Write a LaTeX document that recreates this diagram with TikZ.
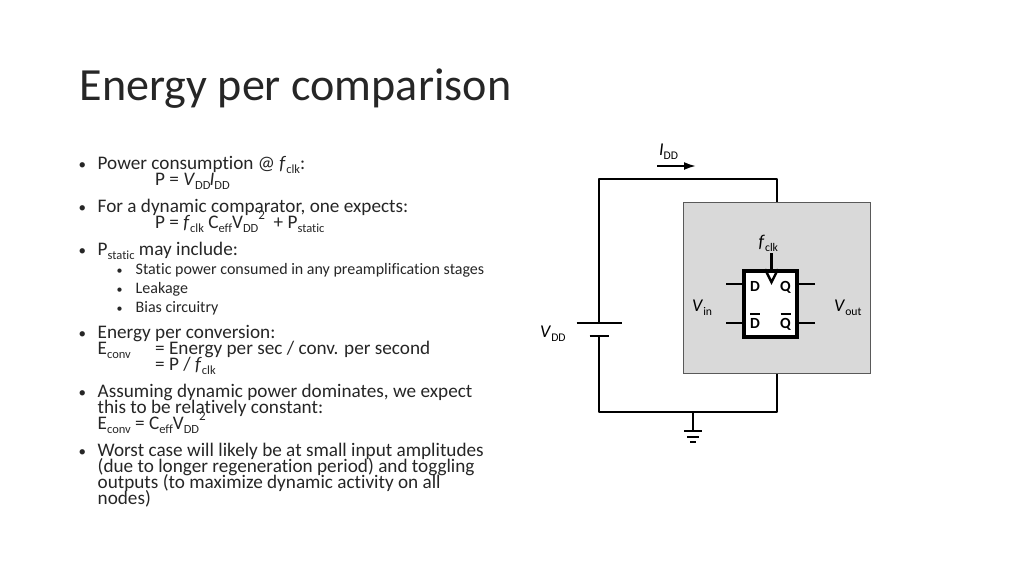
\documentclass[tikz,border=0pt]{standalone}
\usepackage{fontspec}
\setmainfont{Carlito}[Ligatures=NoCommon]
\usepackage{tikz}
\usetikzlibrary{arrows.meta,positioning}
\definecolor{dutgray}{HTML}{D9D9D9}
\definecolor{inktext}{HTML}{262626}
\tikzset{
	titletext/.style={anchor=base west,inner sep=0pt,text=inktext,font=\fontsize{46.1}{48}\selectfont},
	bodytext/.style={anchor=base west,inner sep=0pt,text=inktext,font=\fontsize{19.2}{19}\selectfont},
	subtext/.style={anchor=base west,inner sep=0pt,text=inktext,font=\fontsize{16}{16}\selectfont},
	bodybullet/.style={anchor=base west,inner sep=0pt,text=inktext,font=\fontsize{15}{15}\selectfont},
	subbullet/.style={anchor=base west,inner sep=0pt,text=inktext,font=\fontsize{12}{12}\selectfont},
	cirlabel/.style={anchor=base west,inner sep=0pt,text=black,font=\fontsize{18}{18}\selectfont},
	pinlabel/.style={anchor=base,inner sep=0pt,text=black,font=\fontsize{15.5}{15}\selectfont\bfseries},
	wire/.style={draw=black,line width=2.6pt,line join=round},
	pin/.style={draw=black,line width=2.4pt},
	dutbox/.style={draw=black!65,line width=1pt,fill=dutgray,minimum width=187pt,minimum height=171pt,inner sep=0pt},
	ffbox/.style={draw=black,line width=3.6pt,fill=white,minimum width=53pt,minimum height=66pt,inner sep=0pt}
}
\newcommand{\subs}[1]{\raisebox{-0.25em}{\fontsize{0.65em}{1em}\selectfont #1}}
\newcommand{\sups}[1]{\raisebox{0.42em}{\fontsize{0.68em}{1em}\selectfont #1}}
\newcommand{\fclk}{\textit{f}\subs{clk}}
\newcommand{\pinbar}[1]{\makebox[0pt][c]{\raisebox{13.5pt}{\rule{10pt}{1.6pt}}}\makebox[0pt][c]{#1}}

\begin{document}
\begin{tikzpicture}[x=1pt,y=-1pt]
	\useasboundingbox (0,0) rectangle (1024,576);
	\node[titletext] (title) at (79.5,100) {Energy per comparison};

	% bullets
	\foreach \yb/\nm in {169/a,212.5/b,255/c,338/d,397/e,456/f}
		\node[bodybullet] (bul\nm) at (78.5,\yb) {•};
	\foreach \yb/\nm in {274.5/a,293/b,312/c}
		\node[subbullet] (subbul\nm) at (116.5,\yb) {•};

	\node[bodytext] (power) at (97.5,169) {Power consumption @ \fclk:};
	\node[bodytext] (powereq) at (155,185) {P = \textit{V}\subs{DD}\hspace{-1pt}\textit{I}\subs{DD}};
	\node[bodytext] (dyn) at (97.5,212.5) {For a dynamic comparator, one expects:};
	\node[bodytext] (dyneq) at (155,228) {P = \fclk\ C\subs{eff}V\subs{DD}\sups{2}\ \ + P\subs{static}};
	\node[bodytext] (pstat) at (97.5,255) {P\subs{static} may include:};
	\node[subtext] (stata) at (135.5,274.5) {Static power consumed in any preamplification stages};
	\node[subtext] (statb) at (135.5,293) {Leakage};
	\node[subtext] (statc) at (135.5,312) {Bias circuitry};
	\node[bodytext] (econv) at (97.5,338) {Energy per conversion:};
	\node[bodytext] (econva) at (97.5,354) {E\subs{conv}};
	\node[bodytext] (econvb) at (155,354) {= Energy per sec / conv. per second};
	\node[bodytext] (econvc) at (155,370) {= P / \fclk};
	\node[bodytext] (assume) at (97.5,397) {Assuming dynamic power dominates, we expect};
	\node[bodytext] (assumeb) at (97.5,413) {this to be relatively constant:};
	\node[bodytext] (assumec) at (97.5,429) {E\subs{conv} = C\subs{eff}V\subs{DD}\sups{2}};
	\node[bodytext] (worst) at (97.5,456) {Worst case will likely be at small input amplitudes};
	\node[bodytext] (worstb) at (97.5,472) {(due to longer regeneration period) and toggling};
	\node[bodytext] (worstc) at (97.5,488) {outputs (to maximize dynamic activity on all};
	\node[bodytext] (worstd) at (97.5,504) {nodes)};

	% circuit
	\node[dutbox] (dut) at (776.5,287.5) {};
	\node[ffbox] (ff) at (770.5,304) {};
	\coordinate (topl) at (599,179);
	\coordinate (topr) at (777,179);
	\coordinate (botl) at (599,412);
	\coordinate (botr) at (777,412);
	\coordinate (gnd) at (693,412);
	\coordinate (gndp) at (693,431);
	\coordinate (batt) at (599,323);
	\coordinate (battm) at (599,336);
	\draw[wire] (dut.north -| topr) -- (topr) -- (topl) -- (batt);
	\draw[wire] (battm) -- (botl) -- (botr) -- (dut.south -| botr);
	\draw[wire] (gnd) -- (gndp);
	\draw[wire] ([xshift=-22.5pt]batt) -- ([xshift=22.5pt]batt);
	\draw[wire] ([xshift=-9.5pt]battm) -- ([xshift=9.5pt]battm);
	\draw[wire] ([xshift=-9pt]gndp) -- ([xshift=9pt]gndp);
	\draw[wire] ([xshift=-6pt,yshift=-6pt]gndp) -- ([xshift=6pt,yshift=-6pt]gndp);
	\draw[wire] ([xshift=-3pt,yshift=-11pt]gndp) -- ([xshift=3pt,yshift=-11pt]gndp);
	\coordinate (arrs) at (657,166);
	\coordinate (arre) at (696,166);
	\draw[-{Latex[length=12pt,width=8pt]},line width=2pt] (arrs) -- (arre);

	\node[cirlabel] (idd) at (659,155) {\textit{I}\subs{DD}};
	\node[cirlabel] (vdd) at (540,337) {\textit{V}\subs{DD}};
	\node[cirlabel] (fclk) at (758.5,247) {\fclk};
	\node[cirlabel] (vin) at (692,311) {\textit{V}\subs{in}};
	\node[cirlabel] (vout) at (834,311) {\textit{V}\subs{out}};

	% flip-flop pins
	\coordinate (clkin) at (771.5,253);
	\coordinate (din) at (726,284);
	\coordinate (dbin) at (726,323);
	\coordinate (qout) at (815,284);
	\coordinate (qbout) at (815,323);
	\draw[pin] (clkin) -- (clkin |- ff.north);
	\draw[pin] (din) -- (din -| ff.west);
	\draw[pin] (dbin) -- (dbin -| ff.west);
	\draw[pin] (qout) -- (qout -| ff.east);
	\draw[pin] (qbout) -- (qbout -| ff.east);
	\draw[pin,line join=miter] ([xshift=-6.5pt]clkin |- ff.north) -- ([yshift=-13pt]clkin |- ff.north) -- ([xshift=6.5pt]clkin |- ff.north);
	\node[pinlabel] (dlab) at (755,291) {D};
	\node[pinlabel] (qlab) at (785.5,291) {Q};
	\node[pinlabel] (dblab) at (755,328.5) {\pinbar{D}};
	\node[pinlabel] (qblab) at (785.5,328.5) {\pinbar{Q}};
\end{tikzpicture}
\end{document}
